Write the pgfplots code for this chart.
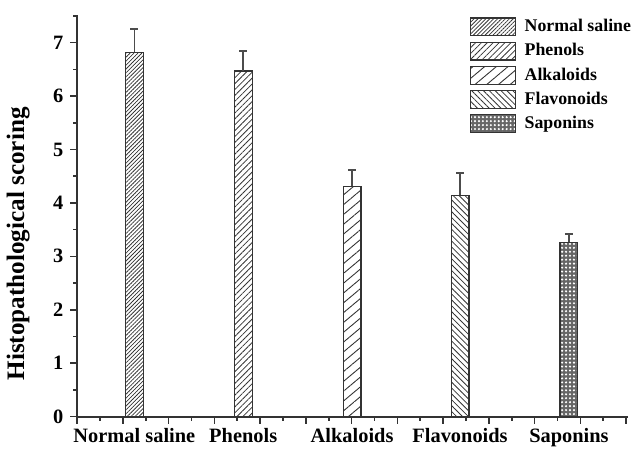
\documentclass[border=0pt]{standalone}
\usepackage{fontspec}
\setmainfont{Liberation Serif}
\usepackage{pgfplots}
\pgfplotsset{compat=1.18}
\usetikzlibrary{patterns.meta}
\begin{document}
\begin{tikzpicture}
\begin{axis}[
  name=ax,
  scale only axis, width=278.5pt, height=203pt,
  axis lines*=left,
  axis line style={line width=0.9pt, black!80},
  xmin=0, xmax=24.1, ymin=0, ymax=7.52,
  xtick={0,2,...,24}, minor xtick={1,3,...,23}, xticklabels={},
  extra x ticks={2.5,7.26,12.02,16.74,21.5},
  extra x tick labels={Normal saline,Phenols,Alkaloids,Flavonoids,Saponins},
  extra x tick style={major tick length=0pt, tick label style={yshift=-2.5pt}},
  ytick={0,...,7}, minor ytick={0.5,1.5,...,7.5},
  tick align=outside, major tick length=3.5pt, minor tick length=2pt,
  tick style={line width=0.8pt, black!80},
  /pgf/number format/assume math mode=true,
  tick label style={font=\fontsize{10.3}{12}\selectfont\bfseries},
  ylabel={Histopathological scoring},
  ylabel shift=5pt,
  ylabel style={font=\fontsize{12.7}{15}\selectfont\bfseries, at={(ticklabel cs:0.43)}},
  legend style={at={(rel axis cs:0.712,1.0)}, anchor=north west, draw=none, fill=none,
    font=\fontsize{9}{10}\selectfont\bfseries, row sep=0.5pt, inner sep=0pt,
    cells={anchor=west}, /tikz/every odd column/.append style={column sep=2.5pt}},
  legend image code/.code={\draw[#1] (0pt,-4.5pt) rectangle (22.5pt,4.5pt);},
  error bars/y dir=plus, error bars/y explicit,
  error bars/error bar style={line width=0.8pt, black!70},
  error bars/error mark options={rotate=90, mark size=2pt, line width=0.8pt, black!70},
]
\addplot[ybar, bar shift=0pt, bar width=0.78, draw=black!80, line width=0.6pt,
  pattern={Lines[angle=45,distance=1.4pt,line width=0.4pt]}, pattern color=black!80]
  coordinates {(2.5,6.82) +- (0,0.43)};
\addlegendentry{Normal saline}
\addplot[ybar, bar shift=0pt, bar width=0.78, draw=black!80, line width=0.6pt,
  pattern={Lines[angle=45,distance=2.1pt,line width=0.4pt]}, pattern color=black!80]
  coordinates {(7.26,6.47) +- (0,0.37)};
\addlegendentry{Phenols}
\addplot[ybar, bar shift=0pt, bar width=0.78, draw=black!80, line width=0.6pt,
  pattern={Lines[angle=40,distance=3.8pt,line width=0.45pt]}, pattern color=black!80]
  coordinates {(12.02,4.31) +- (0,0.31)};
\addlegendentry{Alkaloids}
\addplot[ybar, bar shift=0pt, bar width=0.78, draw=black!80, line width=0.6pt,
  pattern={Lines[angle=-45,distance=2.1pt,line width=0.4pt]}, pattern color=black!80]
  coordinates {(16.74,4.14) +- (0,0.42)};
\addlegendentry{Flavonoids}
\addplot[ybar, bar shift=0pt, bar width=0.78, draw=black!80, line width=0.6pt,
  fill=black!60, postaction={pattern={Dots[distance=2pt,radius=0.6pt]}, pattern color=white}]
  coordinates {(21.5,3.26) +- (0,0.16)};
\addlegendentry{Saponins}
\end{axis}
\path ([yshift=7.5pt]ax.north west);
\end{tikzpicture}
\end{document}
